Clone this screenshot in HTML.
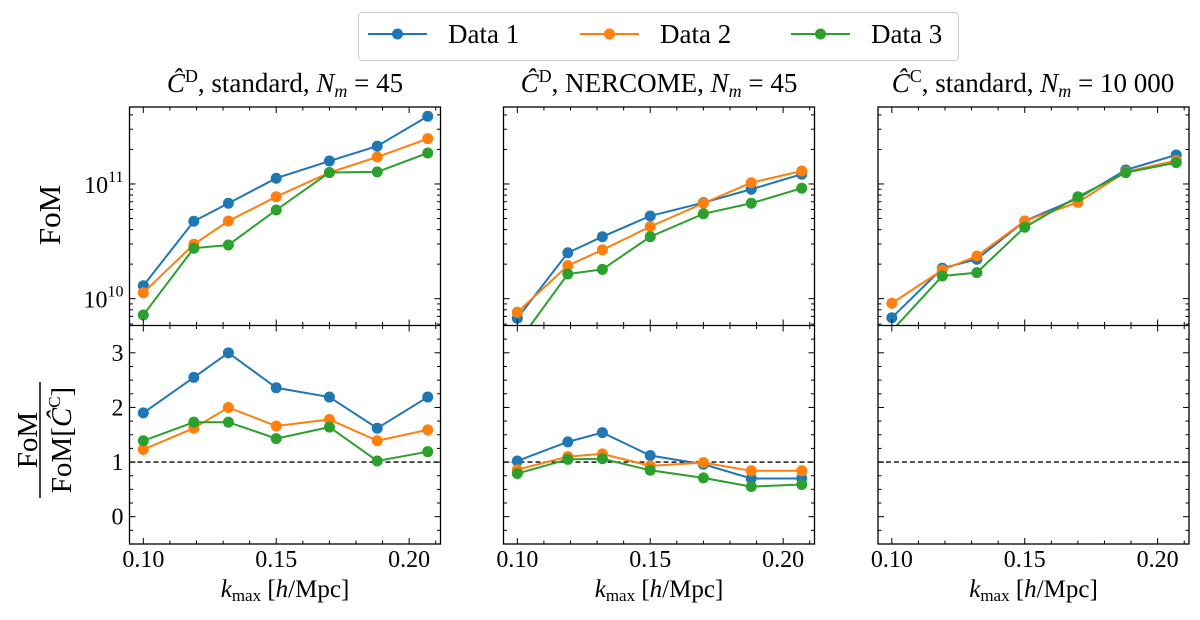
<!DOCTYPE html>
<html><head><meta charset="utf-8"><style>
html,body{margin:0;padding:0;background:#fff;}
svg, svg text{font-family:"Liberation Serif","DejaVu Serif",serif;}
</style></head><body>
<svg id="fig" width="1200" height="615" viewBox="0 0 1200 615" xmlns="http://www.w3.org/2000/svg" font-family="Liberation Serif, serif">
<g>
<rect x="358.5" y="12.5" width="600" height="48" rx="4" fill="#fff" stroke="#ccc" stroke-width="1"/>
<g><line x1="368" y1="34" x2="427" y2="34" stroke="#1f77b4" stroke-width="2"/><circle cx="397.5" cy="34" r="5.5" fill="#1f77b4"/><text x="448" y="43" font-size="27">Data 1</text></g>
<g><line x1="580" y1="34" x2="639" y2="34" stroke="#ff7f0e" stroke-width="2"/><circle cx="609.5" cy="34" r="5.5" fill="#ff7f0e"/><text x="660" y="43" font-size="27">Data 2</text></g>
<g><line x1="791" y1="34" x2="850" y2="34" stroke="#2ca02c" stroke-width="2"/><circle cx="820.5" cy="34" r="5.5" fill="#2ca02c"/><text x="871" y="43" font-size="27">Data 3</text></g>
</g>
<text x="285" y="92" font-size="27" text-anchor="middle"><tspan font-style="italic">Ĉ</tspan><tspan font-size="18" dy="-10">D</tspan><tspan dy="10">, standard, </tspan><tspan font-style="italic">N</tspan><tspan font-style="italic" font-size="18" dy="5">m</tspan><tspan dy="-5"> = 45</tspan></text>
<text x="659" y="92" font-size="27" text-anchor="middle"><tspan font-style="italic">Ĉ</tspan><tspan font-size="18" dy="-10">D</tspan><tspan dy="10">, NERCOME, </tspan><tspan font-style="italic">N</tspan><tspan font-style="italic" font-size="18" dy="5">m</tspan><tspan dy="-5"> = 45</tspan></text>
<text x="1033" y="92" font-size="27" text-anchor="middle"><tspan font-style="italic">Ĉ</tspan><tspan font-size="18" dy="-10">C</tspan><tspan dy="10">, standard, </tspan><tspan font-style="italic">N</tspan><tspan font-style="italic" font-size="18" dy="5">m</tspan><tspan dy="-5"> = 10 000</tspan></text>
<text transform="translate(60,215) rotate(-90)" font-size="31" text-anchor="middle">FoM</text>
<g transform="translate(56,440) rotate(-90)">
<text x="0" y="-19" font-size="29" text-anchor="middle">FoM</text>
<line x1="-58" y1="-16" x2="58" y2="-16" stroke="#000" stroke-width="1.5"/>
<text x="0" y="15" font-size="29" text-anchor="middle">FoM[<tspan font-style="italic">Ĉ</tspan><tspan font-size="17" dy="-11">C</tspan><tspan dy="11">]</tspan></text>
</g>
<g id="plots"></g>
</svg>
<script>
const kvals = [0.100, 0.119, 0.132, 0.150, 0.170, 0.188, 0.207];
// log10(FoM) top panels
const p1Data1 = [10.113, 10.675, 10.832, 11.05, 11.2, 11.33, 11.59];
const p1Data2 = [10.052, 10.474, 10.677, 10.889, 11.099, 11.235, 11.395];
const p1Data3 = [9.858, 10.44, 10.468, 10.773, 11.10, 11.105, 11.27];
const p2Data1 = [9.829, 10.40, 10.54, 10.721, 10.837, 10.954, 11.085];
const p2Data2 = [9.881, 10.288, 10.425, 10.628, 10.832, 11.011, 11.113];
const p2Data3 = [9.61, 10.215, 10.255, 10.54, 10.74, 10.832, 10.963];
const p3Data1 = [9.834, 10.265, 10.344, 10.677, 10.875, 11.122, 11.253];
const p3Data2 = [9.96, 10.25, 10.372, 10.677, 10.84, 11.105, 11.204];
const p3Data3 = [9.72, 10.198, 10.227, 10.623, 10.889, 11.099, 11.186];
// ratio bottom panels
const r1Data1 = [1.90, 2.55, 3.0, 2.36, 2.19, 1.62, 2.19];
const r1Data2 = [1.23, 1.62, 2.0, 1.66, 1.78, 1.39, 1.59];
const r1Data3 = [1.39, 1.73, 1.73, 1.43, 1.64, 1.02, 1.19];
const r2Data1 = [1.02, 1.37, 1.54, 1.12, 0.96, 0.70, 0.70];
const r2Data2 = [0.86, 1.10, 1.15, 0.93, 0.99, 0.84, 0.84];
const r2Data3 = [0.79, 1.05, 1.06, 0.85, 0.71, 0.55, 0.59];
const xTickLabels = ["0.10", "0.15", "0.20"];
const xTicks = [0.10, 0.15, 0.20];
const topTickLabels = ["10", "10"];
const topTicks = [10, 11];
const botTicks = [0, 1, 2, 3];

const NS = "http://www.w3.org/2000/svg";
const root = document.getElementById('plots');
const colors = ["#1f77b4", "#ff7f0e", "#2ca02c"];
const lefts = [129.5, 503.5, 878];
const W = 311, TOP = 107, MID = 325.5, BOT = 544;
const XMIN = 0.0948, XMAX = 0.2118;
const LMIN = 9.766, LMAX = 11.671;
const RMIN = -0.5, RMAX = 3.5;
function mk(tag, attrs, parent) { const e = document.createElementNS(NS, tag); for (const k in attrs) e.setAttribute(k, attrs[k]); (parent || root).appendChild(e); return e; }
function xs(L, k) { return L + (k - XMIN) / (XMAX - XMIN) * W; }
function yTop(v) { return MID - (v - LMIN) / (LMAX - LMIN) * (MID - TOP); }
function yBot(v) { return BOT - (v - RMIN) / (RMAX - RMIN) * (BOT - MID); }
const topSets = [[p1Data1, p1Data2, p1Data3], [p2Data1, p2Data2, p2Data3], [p3Data1, p3Data2, p3Data3]];
const botSets = [[r1Data1, r1Data2, r1Data3], [r2Data1, r2Data2, r2Data3], []];

function drawSeries(g, L, vals, yf, color, clipId, name) {
  const s = mk('g', { 'clip-path': 'url(#' + clipId + ')' }, g);
  
  
  const pts = vals.map((v, i) => xs(L, kvals[i]).toFixed(2) + ',' + yf(v).toFixed(2)).join(' ');
  mk('polyline', { points: pts, fill: 'none', stroke: color, 'stroke-width': 2 }, s);
  vals.forEach((v, i) => {
    const c = mk('circle', { cx: xs(L, kvals[i]), cy: yf(v), r: 5.5, fill: color }, s);
    
    
  });
}

const defs = mk('defs', {});
lefts.forEach((L, p) => {
  const g = mk('g', {});
  
  
  const ct = 'clipT' + p, cb = 'clipB' + p;
  const c1 = mk('clipPath', { id: ct }, defs); mk('rect', { x: L, y: TOP, width: W, height: MID - TOP }, c1);
  const c2 = mk('clipPath', { id: cb }, defs); mk('rect', { x: L, y: MID, width: W, height: BOT - MID }, c2);
  const dl = mk('line', { x1: L, x2: L + W, y1: yBot(1), y2: yBot(1), stroke: '#000', 'stroke-width': 1.3, 'stroke-dasharray': '5,3' }, g);
  
  
  topSets[p].forEach((vals, i) => drawSeries(g, L, vals, yTop, colors[i], ct, 'fom-data-' + (i + 1)));
  botSets[p].forEach((vals, i) => drawSeries(g, L, vals, yBot, colors[i], cb, 'ratio-data-' + (i + 1)));
  const tk = mk('g', { stroke: '#000', 'stroke-width': 1 }, g);
  for (let j = 0; j <= 11; j++) {
    const k = 0.10 + j * 0.01;
    const x = xs(L, k); const major = (j % 5 === 0);
    const len = major ? 6 : 3.5;
    [TOP, MID, BOT].forEach(y => {
      if (y !== TOP) mk('line', { x1: x, x2: x, y1: y, y2: y - len }, tk);
      if (y !== BOT) mk('line', { x1: x, x2: x, y1: y, y2: y + len }, tk);
    });
  }
  for (let d = 9; d <= 11; d++) for (let m = 1; m <= 9; m++) {
    const v = d + Math.log10(m); if (v < LMIN || v > LMAX) continue;
    const y = yTop(v); const len = m === 1 ? 6 : 3.5;
    mk('line', { x1: L, x2: L + len, y1: y, y2: y }, tk);
    mk('line', { x1: L + W, x2: L + W - len, y1: y, y2: y }, tk);
  }
  for (let j = 0; j <= 16; j++) {
    const v = -0.5 + j * 0.25;
    const y = yBot(v); const len = (j % 4 === 2) ? 6 : 3.5;
    mk('line', { x1: L, x2: L + len, y1: y, y2: y }, tk);
    mk('line', { x1: L + W, x2: L + W - len, y1: y, y2: y }, tk);
  }
  mk('rect', { x: L, y: TOP, width: W, height: BOT - TOP, fill: 'none', stroke: '#000', 'stroke-width': 1.3 }, g);
  mk('line', { x1: L, x2: L + W, y1: MID, y2: MID, stroke: '#000', 'stroke-width': 1.3 }, g);
  xTicks.forEach((t, i) => {
    const tx = mk('text', { x: xs(L, t), y: 567, 'font-size': 24, 'text-anchor': 'middle' }, g);
    tx.textContent = xTickLabels[i];
    
    
  });
  const xl = mk('text', { x: L + W / 2, y: 597, 'font-size': 25, 'text-anchor': 'middle' }, g);
  
  
  xl.innerHTML = '<tspan font-style="italic">k</tspan><tspan font-size="17" dy="4">max</tspan><tspan dy="-4"> [</tspan><tspan font-style="italic">h</tspan>/Mpc]';
  if (p === 0) {
    topTicks.forEach((t, i) => {
      const tx = mk('text', { x: L - 6, y: yTop(t) + 9, 'font-size': 24, 'text-anchor': 'end' }, g);
      tx.innerHTML = topTickLabels[i] + '<tspan font-size="16" dy="-11">' + t + '</tspan>';
      
      
    });
    botTicks.forEach(t => {
      const tx = mk('text', { x: L - 6, y: yBot(t) + 8, 'font-size': 24, 'text-anchor': 'end' }, g);
      tx.textContent = String(t);
      
      
    });
  }
});
</script>
</body></html>
